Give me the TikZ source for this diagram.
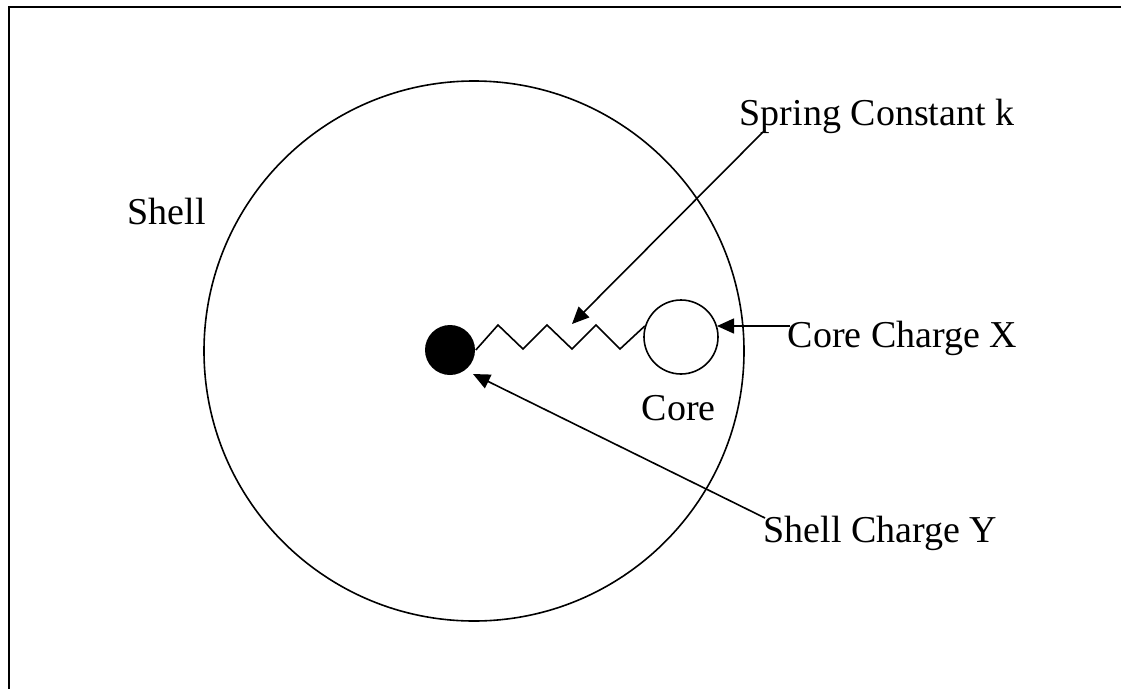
\documentclass[tikz,border=0pt]{standalone}
\usepackage{fontspec}
\setmainfont{Liberation Serif}
\usetikzlibrary{arrows.meta}
\begin{document}
\begin{tikzpicture}[x=1pt,y=-1pt,
  line width=1.6pt,
  lbl/.style={anchor=base west,inner sep=0pt,font=\fontsize{38}{40}\selectfont},
  arr/.style={-{Triangle[length=17pt,width=15pt]},line width=1.6pt},
  frame/.style={line width=2.2pt}]
\useasboundingbox (0,0) rectangle (1126,688);
% frame (top and left edges)
\coordinate (ftr) at (1121,7);
\coordinate (ftl) at (9,7);
\coordinate (fbl) at (9,690);
\draw[frame] (ftr) -- (ftl) -- (fbl);
% shell circle
\node[circle,draw,minimum size=540pt,inner sep=0pt] (shell) at (474,351) {};
% shell charge (filled dot)
\node[circle,fill,minimum size=50pt,inner sep=0pt] (shellq) at (450,350) {};
% core
\node[circle,draw,minimum size=74pt,inner sep=0pt] (core) at (681,337) {};
% spring
\draw (shellq.east) -- (498,325) -- (523,349) -- (547,325) -- (572,349)
      -- (596,325) -- (620,349) -- (core.163);
% labels
\node[lbl] (shelllbl) at (127,224) {Shell};
\node[lbl] (springlbl) at (739,125) {Spring Constant k};
\node[lbl] (corexlbl) at (787,347) {Core Charge X};
\node[lbl] (corelbl) at (641,420) {Core};
\node[lbl] (shellylbl) at (763,542) {Shell Charge Y};
% arrow ends
\coordinate (s1) at (763,132);
\coordinate (t1) at (572,324);
\coordinate (s2) at (790,326);
\coordinate (t2) at (717,326);
\coordinate (s3) at (765,518);
\coordinate (t3) at (473,374);
\draw[arr] (s1) -- (t1);
\draw[arr] (s2) -- (t2);
\draw[arr] (s3) -- (t3);
\end{tikzpicture}
\end{document}
